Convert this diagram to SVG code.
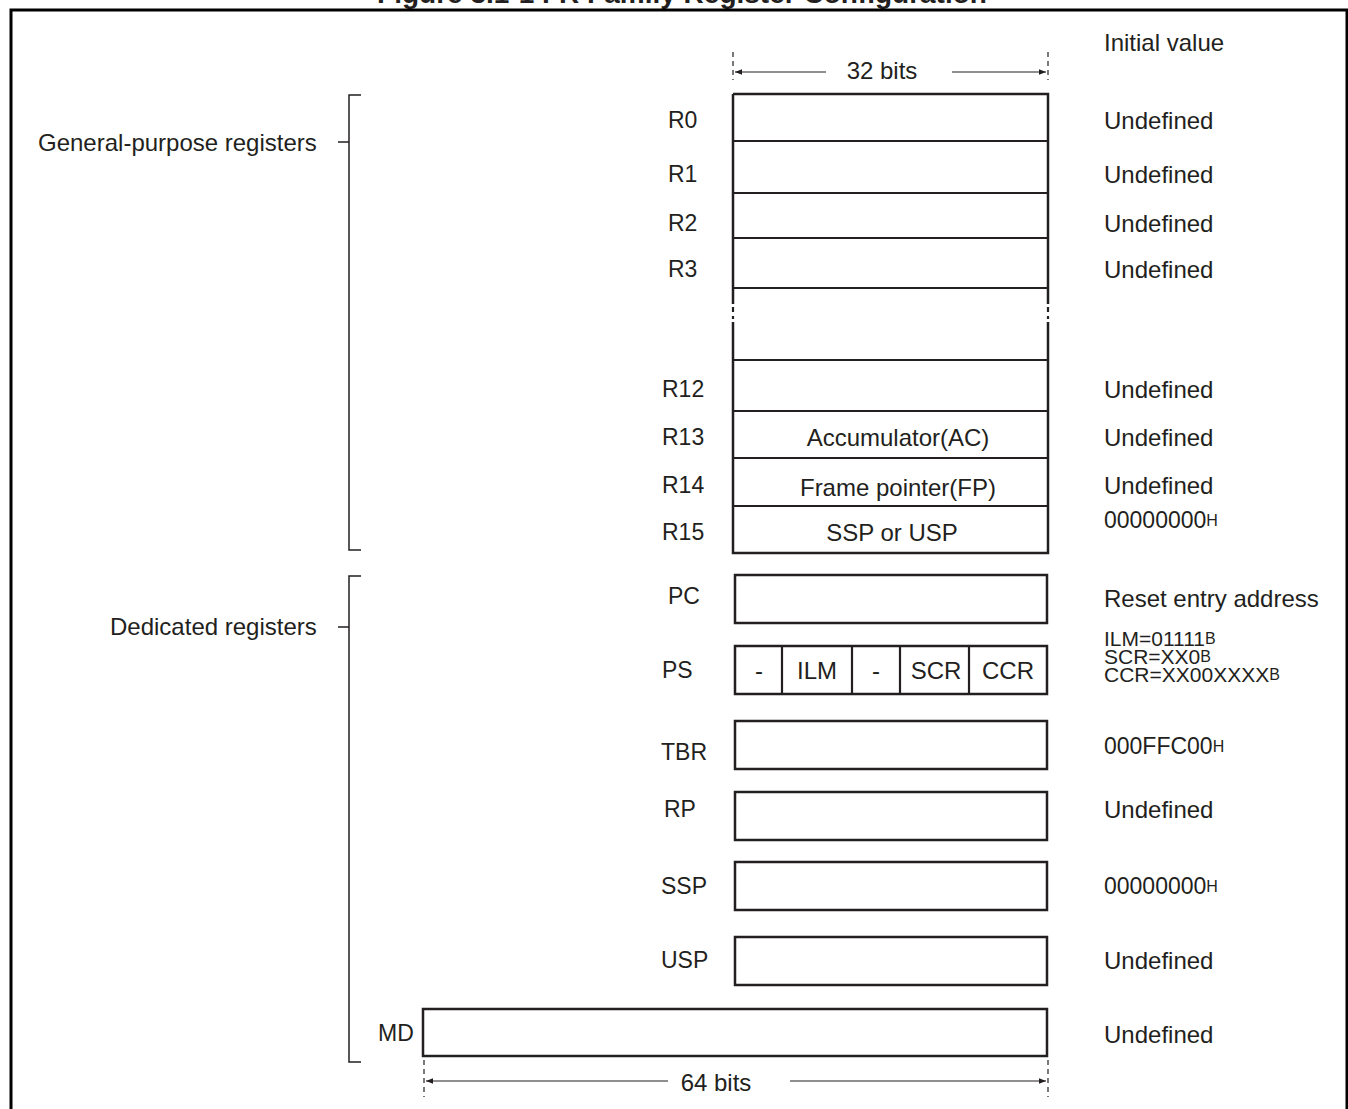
<svg xmlns="http://www.w3.org/2000/svg" width="1348" height="1109" viewBox="0 0 1348 1109">
<defs>
<style>
text{font-family:"Liberation Sans",Arial,sans-serif;font-size:24px;fill:#231f20}
.t{font-family:"Liberation Sans",Arial,sans-serif;font-size:24px;fill:#231f20;dominant-baseline:central}
.m{text-anchor:middle}
.sub{font-size:16px}
.box{fill:#fff;stroke:#231f20;stroke-width:2.5}
.div{stroke:#231f20;stroke-width:2.2;fill:none}
.br{stroke:#231f20;stroke-width:1.5;fill:none}
.dim{stroke:#231f20;stroke-width:1.2;fill:none}
.tick{stroke:#231f20;stroke-width:1.2;stroke-dasharray:5,4;fill:none}
.lb{font-size:23px}
.ps{font-size:21px}
.hx{font-size:23px}
</style>
<marker id="ah" viewBox="0 0 10 10" refX="10" refY="5" markerWidth="9" markerHeight="7" orient="auto-start-reverse" markerUnits="userSpaceOnUse">
<path d="M0,1 L10,5 L0,9 z" fill="#231f20"/>
</marker>
</defs>
<rect width="1348" height="1109" fill="#fff"/>
<text x="682" y="3" class="m" style="font-weight:bold;font-size:28px">Figure 3.1-1 FR Family Register Configuration</text>
<path d="M11,1109 V10 H1347 V1109" fill="none" stroke="#000" stroke-width="3"/>

<g id="connectors">
<path class="tick" d="M733,52 V80 M1048,52 V80"/>
<path class="dim" d="M826,72 H735" marker-end="url(#ah)"/>
<path class="dim" d="M952,72 H1046" marker-end="url(#ah)"/>
<path class="tick" d="M424,1060 V1097 M1048,1060 V1097"/>
<path class="dim" d="M668,1081 H426" marker-end="url(#ah)"/>
<path class="dim" d="M790,1081 H1046" marker-end="url(#ah)"/>
<path class="br" d="M361,95 H349 V550 H361 M338,142 H349"/>
<path class="br" d="M361,576 H349 V1062 H361 M338,627 H349"/>
</g>
<text class="t m" x="882" y="70">32 bits</text>
<text class="t m" x="716" y="1082">64 bits</text>
<text class="t" x="1104" y="42">Initial value</text>

<g id="group-general">
<text class="t" x="38" y="142">General-purpose registers</text>
</g>
<g id="group-dedicated">
<text class="t" x="110" y="626">Dedicated registers</text>
</g>

<g id="gp-stack">
<path d="M733,94 H1048 V304 M1048,322 V553 H733 V322 M733,304 V94" fill="#fff" stroke="#231f20" stroke-width="2.5"/>
<path class="div" d="M733,307 V312 M1048,307 V312 M733,316 V319 M1048,316 V319" stroke-width="1.5"/>
<path class="div" d="M733,141 H1048 M733,193 H1048 M733,238 H1048 M733,288 H1048 M733,360 H1048 M733,411 H1048 M733,458 H1048 M733,506 H1048"/>
</g>

<g id="R0"><text class="t lb" x="668" y="120">R0</text><text class="t" x="1104" y="120">Undefined</text></g>
<g id="R1"><text class="t lb" x="668" y="174">R1</text><text class="t" x="1104" y="174">Undefined</text></g>
<g id="R2"><text class="t lb" x="668" y="223">R2</text><text class="t" x="1104" y="223">Undefined</text></g>
<g id="R3"><text class="t lb" x="668" y="269">R3</text><text class="t" x="1104" y="269">Undefined</text></g>
<g id="R12"><text class="t lb" x="662" y="389">R12</text><text class="t" x="1104" y="389">Undefined</text></g>
<g id="R13"><text class="t lb" x="662" y="437">R13</text><text class="t m" x="898" y="437">Accumulator(AC)</text><text class="t" x="1104" y="437">Undefined</text></g>
<g id="R14"><text class="t lb" x="662" y="485">R14</text><text class="t m" x="898" y="487">Frame pointer(FP)</text><text class="t" x="1104" y="485">Undefined</text></g>
<g id="R15"><text class="t lb" x="662" y="532">R15</text><text class="t m" x="892" y="532">SSP or USP</text><text class="t hx" x="1104" y="520">00000000<tspan class="sub">H</tspan></text></g>

<g id="PC"><rect class="box" x="735" y="575" width="312" height="48"/><text class="t lb" x="668" y="596">PC</text><text class="t" x="1104" y="598">Reset entry address</text></g>
<g id="PS"><rect class="box" x="735" y="646" width="312" height="48"/>
<path class="div" d="M782,646 V694 M852,646 V694 M900,646 V694 M969,646 V694"/>
<text class="t m" x="759" y="670">-</text><text class="t m" x="817" y="670">ILM</text><text class="t m" x="876" y="670">-</text><text class="t m" x="936" y="670">SCR</text><text class="t m" x="1008" y="670">CCR</text>
<text class="t lb" x="662" y="670">PS</text>
<text class="t ps" x="1104" y="638">ILM=01111<tspan class="sub">B</tspan></text>
<text class="t ps" x="1104" y="656">SCR=XX0<tspan class="sub">B</tspan></text>
<text class="t ps" x="1104" y="674">CCR=XX00XXXX<tspan class="sub">B</tspan></text>
</g>
<g id="TBR"><rect class="box" x="735" y="721" width="312" height="48"/><text class="t lb" x="661" y="752">TBR</text><text class="t hx" x="1104" y="746">000FFC00<tspan class="sub">H</tspan></text></g>
<g id="RP"><rect class="box" x="735" y="792" width="312" height="48"/><text class="t lb" x="664" y="809">RP</text><text class="t" x="1104" y="809">Undefined</text></g>
<g id="SSP"><rect class="box" x="735" y="862" width="312" height="48"/><text class="t lb" x="661" y="886">SSP</text><text class="t hx" x="1104" y="886">00000000<tspan class="sub">H</tspan></text></g>
<g id="USP"><rect class="box" x="735" y="937" width="312" height="48"/><text class="t lb" x="661" y="960">USP</text><text class="t" x="1104" y="960">Undefined</text></g>
<g id="MD"><rect class="box" x="423" y="1009" width="624" height="47"/><text class="t lb" x="378" y="1033">MD</text><text class="t" x="1104" y="1034">Undefined</text></g>
</svg>
